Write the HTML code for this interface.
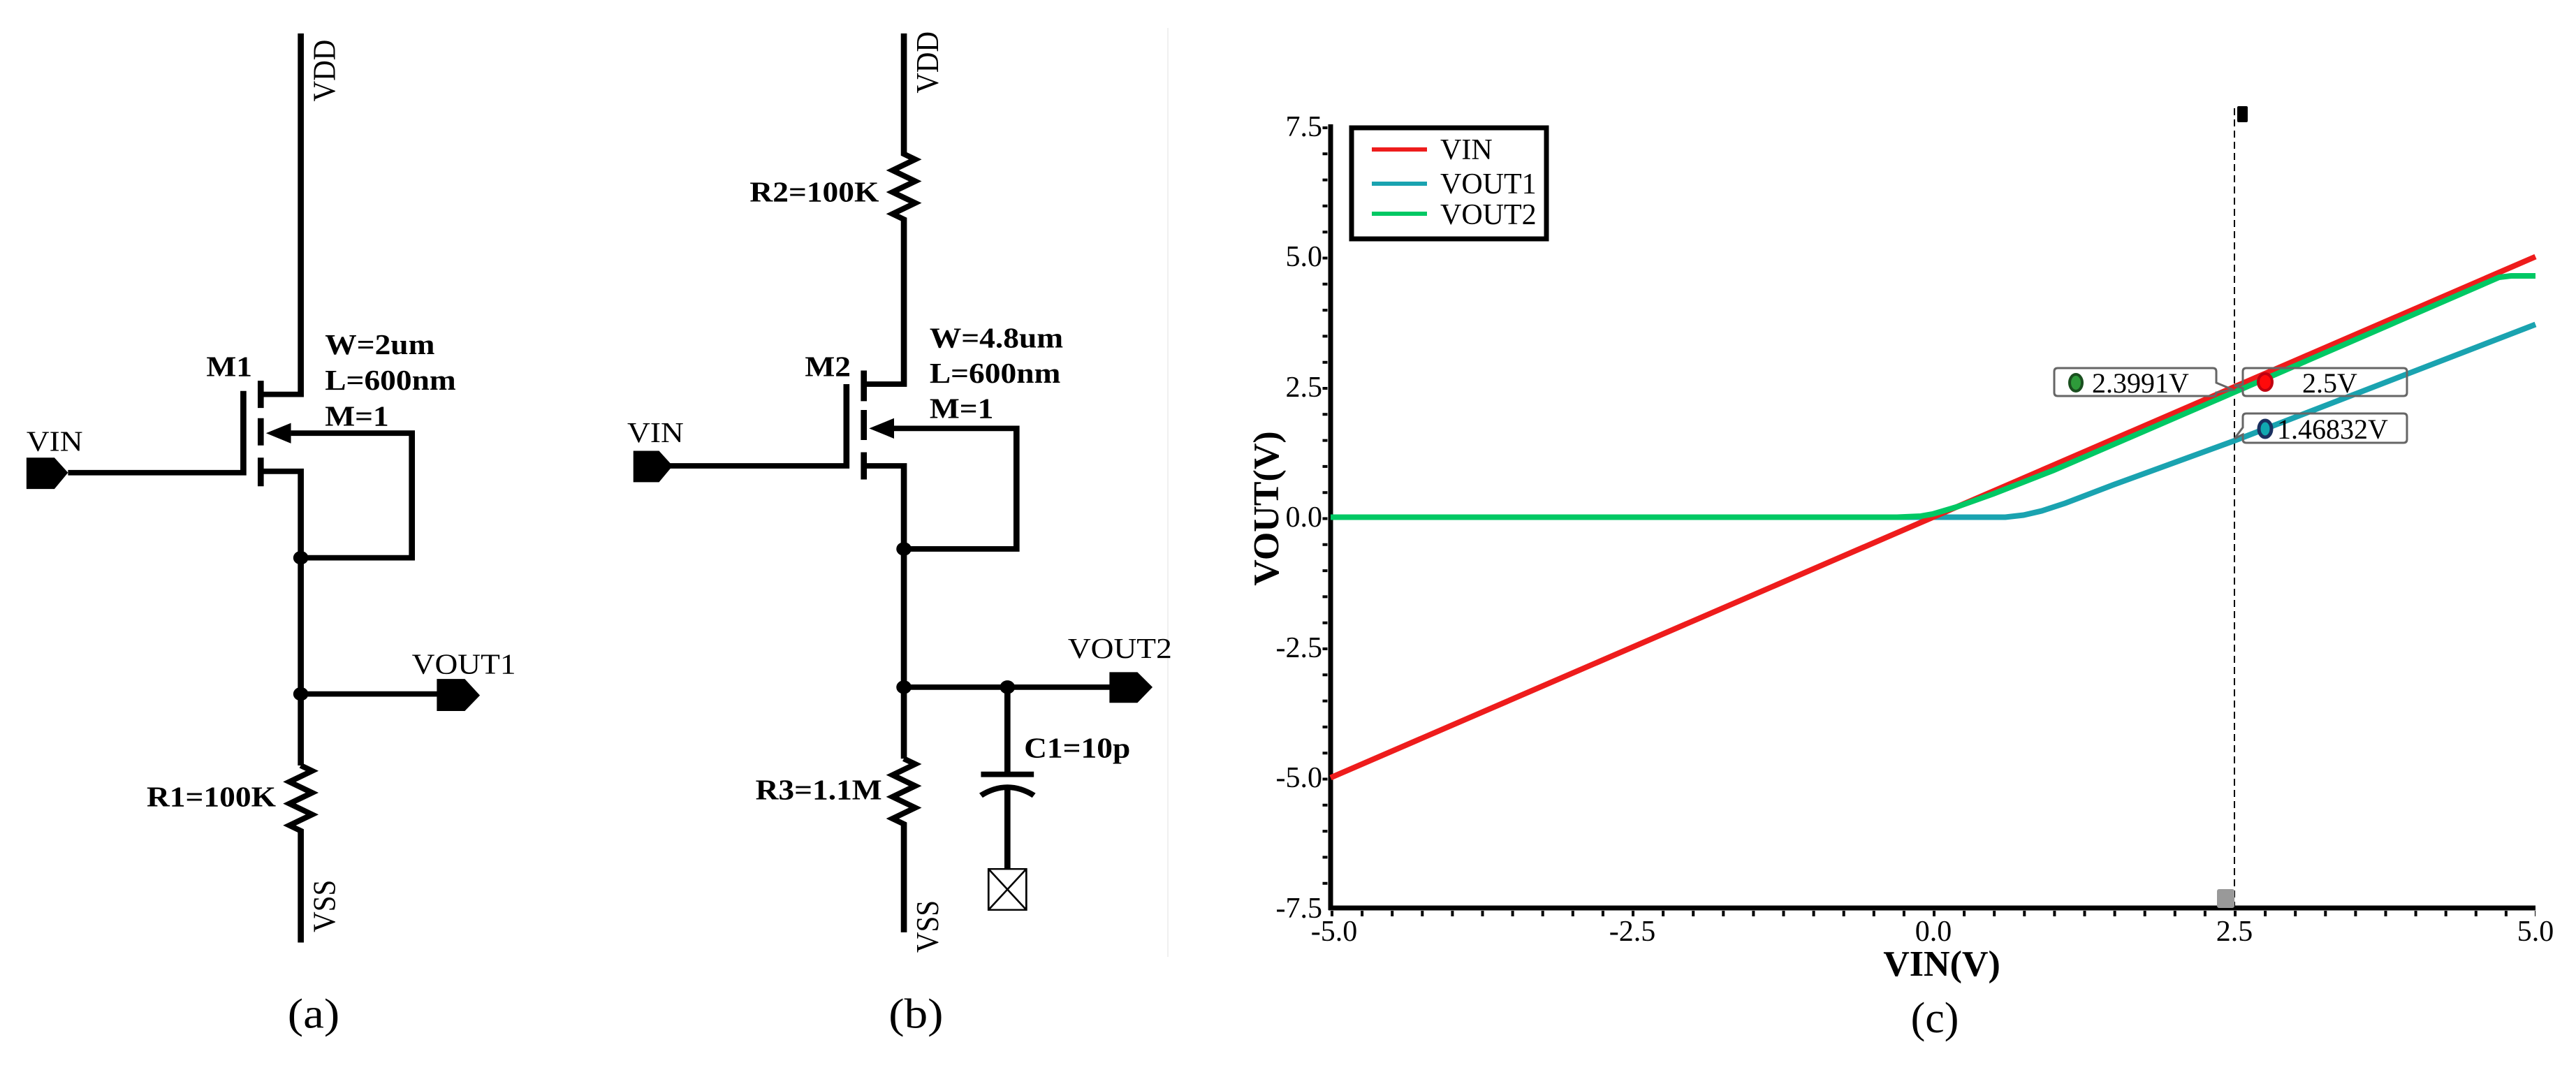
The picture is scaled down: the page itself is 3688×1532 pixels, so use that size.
<!DOCTYPE html>
<html><head><meta charset="utf-8"><style>
html,body{margin:0;padding:0;background:#fff}
svg{display:block}
svg text{font-family:"Liberation Serif","Times New Roman",serif}
</style></head><body>
<svg width="3688" height="1532" viewBox="0 0 3688 1532" xmlns="http://www.w3.org/2000/svg" font-family="Liberation Serif, serif">
<rect width="3688" height="1532" fill="#fff"/>
<line x1="1672" y1="40" x2="1672" y2="1370" stroke="#f0f0f0" stroke-width="2"/>
<g transform="matrix(1.082,0,0,0.975,0,4)" stroke="#000" stroke-width="8" fill="none">
 <polyline points="398,45 398,575 345,575"/>
 <line x1="345" y1="555" x2="345" y2="595"/>
 <line x1="345" y1="610" x2="345" y2="650"/>
 <line x1="345" y1="668" x2="345" y2="710"/>
 <polyline points="322,570 322,690 90,690"/>
 <polyline points="345,688 398,688 398,1120"/>
 <polyline points="385,632 545,632 545,815 398,815"/>
 <polygon points="352,632 385,617 385,647" fill="#000" stroke="none"/>
 <polyline points="398,1015 580,1015"/>
 <polyline points="398,1120 413,1128 383,1144 413,1160 383,1176 413,1192 383,1208 398,1216 398,1380"/>
 <polygon points="35,668 72,668 90,690 72,714 35,714" fill="#000" stroke="none"/>
 <polygon points="578,993 615,993 635,1017 615,1040 578,1040" fill="#000" stroke="none"/>
 <circle cx="398" cy="815" r="10" fill="#000" stroke="none"/>
 <circle cx="398" cy="1015" r="10" fill="#000" stroke="none"/>
 <polyline points="1196,45 1196,222 1211,230 1181,246 1211,262 1181,278 1211,294 1181,310 1196,318 1196,560 1143,560"/>
 <line x1="1143" y1="540" x2="1143" y2="585"/>
 <line x1="1143" y1="598" x2="1143" y2="642"/>
 <line x1="1143" y1="660" x2="1143" y2="700"/>
 <polyline points="1120,560 1120,680 885,680"/>
 <polyline points="1143,680 1196,680 1196,1110"/>
 <polyline points="1183,625 1345,625 1345,802 1196,802"/>
 <polygon points="1150,625 1183,610 1183,640" fill="#000" stroke="none"/>
 <polyline points="1196,1005 1470,1005"/>
 <polyline points="1196,1110 1211,1118 1181,1134 1211,1150 1181,1166 1211,1182 1181,1198 1196,1206 1196,1365"/>
 <polygon points="838,658 872,658 890,680 872,704 838,704" fill="#000" stroke="none"/>
 <polygon points="1468,983 1505,983 1525,1005 1505,1028 1468,1028" fill="#000" stroke="none"/>
 <circle cx="1196" cy="802" r="10" fill="#000" stroke="none"/>
 <circle cx="1196" cy="1005" r="10" fill="#000" stroke="none"/>
 <circle cx="1333" cy="1005" r="10" fill="#000" stroke="none"/>
 <line x1="1333" y1="1005" x2="1333" y2="1133"/>
 <line x1="1298" y1="1133" x2="1368" y2="1133"/>
 <path d="M1298,1164 Q1333,1140 1368,1164"/>
 <line x1="1333" y1="1152" x2="1333" y2="1272"/>
 <g stroke-width="2.5"><rect x="1308" y="1272" width="50" height="60"/><line x1="1308" y1="1272" x2="1358" y2="1332"/><line x1="1358" y1="1272" x2="1308" y2="1332"/></g>
 <g stroke="none" fill="#000" font-size="42" font-family="Liberation Serif, serif">
  <g font-weight="bold">
   <text x="273" y="548">M1</text>
   <text x="430" y="516">W=2um</text>
   <text x="430" y="568">L=600nm</text>
   <text x="430" y="621">M=1</text>
   <text x="365" y="1180" text-anchor="end">R1=100K</text>
   <text x="1065" y="548">M2</text>
   <text x="1230" y="506">W=4.8um</text>
   <text x="1230" y="558">L=600nm</text>
   <text x="1230" y="610">M=1</text>
   <text x="1163" y="292" text-anchor="end">R2=100K</text>
   <text x="1167" y="1170" text-anchor="end">R3=1.1M</text>
   <text x="1355" y="1108">C1=10p</text>
  </g>
  <text x="35" y="658">VIN</text>
  <text x="830" y="645">VIN</text>
  <text x="545" y="985">VOUT1</text>
  <text x="1413" y="962">VOUT2</text>
  <text transform="translate(443,145) rotate(-90)">VDD</text>
  <text transform="translate(1241,133) rotate(-90)">VDD</text>
  <text transform="translate(443,1365) rotate(-90)">VSS</text>
  <text transform="translate(1241,1395) rotate(-90)">VSS</text>
  <text x="415" y="1505" font-size="62" text-anchor="middle">(a)</text>
  <text x="1212" y="1505" font-size="62" text-anchor="middle">(b)</text>
 </g>
</g>
<g font-family="Liberation Serif, serif">
 <line x1="1897" y1="181" x2="1897" y2="1300" stroke="#000" stroke-width="7" stroke-dasharray="4 33.3"/>
 <line x1="1905" y1="1308" x2="3630" y2="1308" stroke="#000" stroke-width="8" stroke-dasharray="4 39.1"/>
 <line x1="1905" y1="178" x2="1905" y2="1303" stroke="#000" stroke-width="7"/>
 <line x1="1902" y1="1300" x2="3630" y2="1300" stroke="#000" stroke-width="7"/>
 <line x1="3199" y1="155" x2="3199" y2="1300" stroke="#000" stroke-width="2" stroke-dasharray="10 6"/>
 <rect x="3203" y="152" width="15" height="23" fill="#000" rx="2"/>
 <rect x="3174" y="1273" width="25" height="27" fill="#999" rx="3"/>
 <polyline fill="none" stroke="#1aa3b0" stroke-width="8" points="1905,740.5 2871,740.5 2897,737.5 2923,731.5 2957,720.4 3026,694 3199,631 3630,464.5"/>
 <line x1="1905" y1="1113.5" x2="3630" y2="367.5" stroke="#ee1c1c" stroke-width="8"/>
 <polyline fill="none" stroke="#00c864" stroke-width="8" points="1905,740.5 2716,740.5 2750,739 2767,736 2802,725.6 2854,707 2940,673.4 3199,561.5 3578,397 3595,395 3630,395"/>
 <rect x="1935" y="183" width="279" height="159" fill="#fff" stroke="#000" stroke-width="7"/>
 <line x1="1964" y1="214" x2="2043" y2="214" stroke="#ee1c1c" stroke-width="6"/>
 <line x1="1964" y1="263" x2="2043" y2="263" stroke="#1aa3b0" stroke-width="6"/>
 <line x1="1964" y1="306" x2="2043" y2="306" stroke="#00c864" stroke-width="6"/>
 <g font-size="42" fill="#000">
  <text x="2062" y="228">VIN</text>
  <text x="2062" y="277">VOUT1</text>
  <text x="2062" y="321">VOUT2</text>
 </g>
 <g fill="none" stroke="#666" stroke-width="3">
  <path d="M2946,527 H3168 Q3173,527 3173,532 V548 L3197,558 L3173,562 V562 Q3173,567 3168,567 H2946 Q2941,567 2941,562 V532 Q2941,527 2946,527 Z"/>
  <path d="M3216,527 H3441 Q3446,527 3446,532 V562 Q3446,567 3441,567 H3216 Q3211,567 3211,562 V556 L3199,552 L3211,550 V532 Q3211,527 3216,527 Z"/>
  <path d="M3216,592 H3441 Q3446,592 3446,597 V629 Q3446,634 3441,634 H3216 Q3211,634 3211,629 V622 L3199,628 L3211,612 V597 Q3211,592 3216,592 Z"/>
 </g>
 <ellipse cx="2972" cy="548" rx="9" ry="12" fill="#2e9b3a" stroke="#1a4f1f" stroke-width="4"/>
 <ellipse cx="3243" cy="547" rx="10" ry="12" fill="#ff0a0a" stroke="#c00010" stroke-width="4"/>
 <ellipse cx="3243" cy="614" rx="9" ry="12" fill="#10a8b0" stroke="#1a3060" stroke-width="5"/>
 <g font-size="40" fill="#000">
  <text x="2995" y="562">2.3991V</text>
  <text x="3296" y="562">2.5V</text>
  <text x="3260" y="628">1.46832V</text>
 </g>
 <g font-size="42" fill="#000" text-anchor="end">
  <text x="1893" y="195">7.5</text>
  <text x="1893" y="381">5.0</text>
  <text x="1893" y="568">2.5</text>
  <text x="1893" y="754">0.0</text>
  <text x="1893" y="941">-2.5</text>
  <text x="1893" y="1127">-5.0</text>
  <text x="1893" y="1314">-7.5</text>
 </g>
 <g font-size="42" fill="#000" text-anchor="middle">
  <text x="1910" y="1347">-5.0</text>
  <text x="2337" y="1347">-2.5</text>
  <text x="2768" y="1347">0.0</text>
  <text x="3199" y="1347">2.5</text>
  <text x="3630" y="1347">5.0</text>
 </g>
 <text x="2780" y="1397" font-size="52" font-weight="bold" text-anchor="middle">VIN(V)</text>
 <text transform="translate(1830,728) rotate(-90)" font-size="52" font-weight="bold" text-anchor="middle">VOUT(V)</text>
 <text x="2770" y="1478" font-size="62" text-anchor="middle">(c)</text>
</g>
</svg>
</body></html>
